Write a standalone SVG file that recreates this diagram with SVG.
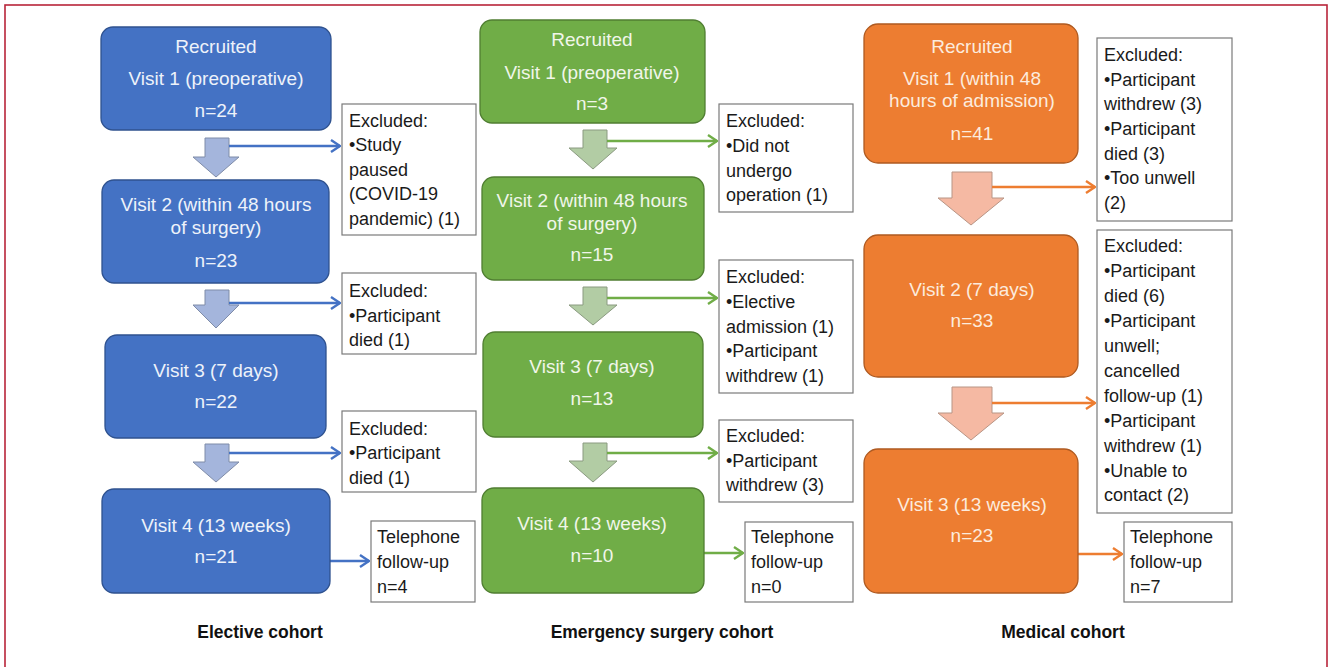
<svg xmlns="http://www.w3.org/2000/svg" width="1333" height="667" viewBox="0 0 1333 667">
<style>
.nt{font-family:"Liberation Sans",Arial,sans-serif;font-size:19px;text-anchor:middle}
.bt{font-family:"Liberation Sans",Arial,sans-serif;font-size:18px;fill:#1a1a1a}
.hd{font-family:"Liberation Sans",Arial,sans-serif;font-size:17.5px;font-weight:bold;text-anchor:middle;fill:#111}
.wb{fill:#fff;stroke:#7a7a7a;stroke-width:1.2}
.nb{fill:#4472C4;stroke:#2F528F;stroke-width:1.3}
.ng{fill:#70AD47;stroke:#507E32;stroke-width:1.3}
.no{fill:#ED7D31;stroke:#AE5A21;stroke-width:1.3}
.tb{fill:#EEF2FA}.tg{fill:#F0F6EA}.to{fill:#FCEBDD}
.ab{fill:#A4B5DC;stroke:#7F8CA8;stroke-width:1}
.ag{fill:#B2CCA4;stroke:#8A9A80;stroke-width:1}
.ao{fill:#F5B9A3;stroke:#B89585;stroke-width:1}
.cb{stroke:#4472C4;stroke-width:2.4;fill:none}
.cg{stroke:#70AD47;stroke-width:2.4;fill:none}
.co{stroke:#ED7D31;stroke-width:2.4;fill:none}
</style>
<defs>
<marker id="mb" markerWidth="11" markerHeight="14" refX="10" refY="7" orient="auto" markerUnits="userSpaceOnUse"><polyline points="1,1 10,7 1,13" fill="none" stroke="#4472C4" stroke-width="2.4"/></marker>
<marker id="mg" markerWidth="11" markerHeight="14" refX="10" refY="7" orient="auto" markerUnits="userSpaceOnUse"><polyline points="1,1 10,7 1,13" fill="none" stroke="#70AD47" stroke-width="2.4"/></marker>
<marker id="mo" markerWidth="11" markerHeight="14" refX="10" refY="7" orient="auto" markerUnits="userSpaceOnUse"><polyline points="1,1 10,7 1,13" fill="none" stroke="#ED7D31" stroke-width="2.4"/></marker>
</defs>
<rect width="1333" height="667" fill="#fff"/>
<rect x="5" y="5" width="1322" height="680" fill="none" stroke="#B8253A" stroke-width="1.6"/>

<g id="block-arrows">
<polygon class="ab" points="205,138 229,138 229,157 239,157 216,177 193,157 205,157"/>
<polygon class="ab" points="205,290 229,290 229,305 239,305 216,328 193,305 205,305"/>
<polygon class="ab" points="205,444 229,444 229,462 239,462 216,482 193,462 205,462"/>
<polygon class="ag" points="583,130 607,130 607,148 617,148 593,169 569,148 583,148"/>
<polygon class="ag" points="583,287 607,287 607,305 617,305 593,325 569,305 583,305"/>
<polygon class="ag" points="583,443 607,443 607,461 617,461 593,482 569,461 583,461"/>
<polygon class="ao" points="952,172 992,172 992,198 1004,198 971,225 938,198 952,198"/>
<polygon class="ao" points="952,387 992,387 992,413 1004,413 971,440 938,413 952,413"/>
</g>

<g id="connectors">
<line class="cb" x1="229" y1="146" x2="340" y2="146" marker-end="url(#mb)"/>
<line class="cb" x1="229" y1="303" x2="340" y2="303" marker-end="url(#mb)"/>
<line class="cb" x1="229" y1="453" x2="340" y2="453" marker-end="url(#mb)"/>
<line class="cb" x1="330" y1="561" x2="369" y2="561" marker-end="url(#mb)"/>
<line class="cg" x1="607" y1="141" x2="717" y2="141" marker-end="url(#mg)"/>
<line class="cg" x1="607" y1="298" x2="717" y2="298" marker-end="url(#mg)"/>
<line class="cg" x1="607" y1="453" x2="717" y2="453" marker-end="url(#mg)"/>
<line class="cg" x1="704" y1="553" x2="743" y2="553" marker-end="url(#mg)"/>
<line class="co" x1="992" y1="187" x2="1095" y2="187" marker-end="url(#mo)"/>
<line class="co" x1="992" y1="403" x2="1095" y2="403" marker-end="url(#mo)"/>
<line class="co" x1="1078" y1="554" x2="1122" y2="554" marker-end="url(#mo)"/>
</g>

<g id="e1"><rect class="nb" x="101" y="27" width="230" height="103" rx="12"/>
<text class="nt tb" x="216" y="53">Recruited</text><text class="nt tb" x="216" y="85">Visit 1 (preoperative)</text><text class="nt tb" x="216" y="117">n=24</text></g>
<g id="e2"><rect class="nb" x="102" y="180" width="227" height="103" rx="12"/>
<text class="nt tb" x="216" y="211">Visit 2 (within 48 hours</text><text class="nt tb" x="216" y="234">of surgery)</text><text class="nt tb" x="216" y="267">n=23</text></g>
<g id="e3"><rect class="nb" x="105" y="335" width="221" height="103" rx="12"/>
<text class="nt tb" x="216" y="377">Visit 3 (7 days)</text><text class="nt tb" x="216" y="408">n=22</text></g>
<g id="e4"><rect class="nb" x="102" y="489" width="228" height="104" rx="12"/>
<text class="nt tb" x="216" y="532">Visit 4 (13 weeks)</text><text class="nt tb" x="216" y="563">n=21</text></g>
<g id="ex-e1"><rect class="wb" x="342" y="104" width="134" height="131"/>
<text class="bt" x="349" y="127">Excluded:</text><text class="bt" x="349" y="151">•Study</text><text class="bt" x="349" y="176">paused</text><text class="bt" x="349" y="200">(COVID-19</text><text class="bt" x="349" y="225">pandemic) (1)</text></g>
<g id="ex-e2"><rect class="wb" x="342" y="273" width="134" height="81"/>
<text class="bt" x="349" y="297">Excluded:</text><text class="bt" x="349" y="322">•Participant</text><text class="bt" x="349" y="346">died (1)</text></g>
<g id="ex-e3"><rect class="wb" x="342" y="411" width="134" height="81"/>
<text class="bt" x="349" y="435">Excluded:</text><text class="bt" x="349" y="459">•Participant</text><text class="bt" x="349" y="484">died (1)</text></g>
<g id="tel-e"><rect class="wb" x="371" y="521" width="104" height="81"/>
<text class="bt" x="377" y="543">Telephone</text><text class="bt" x="377" y="568">follow-up</text><text class="bt" x="377" y="593">n=4</text></g>
<text class="hd" x="260" y="638">Elective cohort</text>

<g id="g1"><rect class="ng" x="480" y="20" width="225" height="103" rx="12"/>
<text class="nt tg" x="592" y="46">Recruited</text><text class="nt tg" x="592" y="79">Visit 1 (preoperative)</text><text class="nt tg" x="592" y="110">n=3</text></g>
<g id="g2"><rect class="ng" x="482" y="177" width="222" height="103" rx="12"/>
<text class="nt tg" x="592" y="207">Visit 2 (within 48 hours</text><text class="nt tg" x="592" y="230">of surgery)</text><text class="nt tg" x="592" y="261">n=15</text></g>
<g id="g3"><rect class="ng" x="483" y="332" width="220" height="105" rx="12"/>
<text class="nt tg" x="592" y="373">Visit 3 (7 days)</text><text class="nt tg" x="592" y="405">n=13</text></g>
<g id="g4"><rect class="ng" x="482" y="488" width="222" height="105" rx="12"/>
<text class="nt tg" x="592" y="530">Visit 4 (13 weeks)</text><text class="nt tg" x="592" y="562">n=10</text></g>
<g id="ex-g1"><rect class="wb" x="719" y="104" width="134" height="108"/>
<text class="bt" x="726" y="127">Excluded:</text><text class="bt" x="726" y="152">•Did not</text><text class="bt" x="726" y="177">undergo</text><text class="bt" x="726" y="201">operation (1)</text></g>
<g id="ex-g2"><rect class="wb" x="719" y="260" width="134" height="133"/>
<text class="bt" x="726" y="283">Excluded:</text><text class="bt" x="726" y="308">•Elective</text><text class="bt" x="726" y="333">admission (1)</text><text class="bt" x="726" y="357">•Participant</text><text class="bt" x="726" y="382">withdrew (1)</text></g>
<g id="ex-g3"><rect class="wb" x="719" y="420" width="134" height="82"/>
<text class="bt" x="726" y="442">Excluded:</text><text class="bt" x="726" y="467">•Participant</text><text class="bt" x="726" y="491">withdrew (3)</text></g>
<g id="tel-g"><rect class="wb" x="745" y="522" width="108" height="80"/>
<text class="bt" x="751" y="543">Telephone</text><text class="bt" x="751" y="568">follow-up</text><text class="bt" x="751" y="593">n=0</text></g>
<text class="hd" x="662" y="638">Emergency surgery cohort</text>

<g id="m1"><rect class="no" x="864" y="24" width="214" height="139" rx="14"/>
<text class="nt to" x="972" y="53">Recruited</text><text class="nt to" x="972" y="85">Visit 1 (within 48</text><text class="nt to" x="972" y="107">hours of admission)</text><text class="nt to" x="972" y="140">n=41</text></g>
<g id="m2"><rect class="no" x="864" y="235" width="214" height="142" rx="14"/>
<text class="nt to" x="972" y="296">Visit 2 (7 days)</text><text class="nt to" x="972" y="327">n=33</text></g>
<g id="m3"><rect class="no" x="864" y="449" width="214" height="144" rx="14"/>
<text class="nt to" x="972" y="511">Visit 3 (13 weeks)</text><text class="nt to" x="972" y="542">n=23</text></g>
<g id="ex-m1"><rect class="wb" x="1097" y="38" width="135" height="183"/>
<text class="bt" x="1104" y="61">Excluded:</text><text class="bt" x="1104" y="86">•Participant</text><text class="bt" x="1104" y="110">withdrew (3)</text><text class="bt" x="1104" y="135">•Participant</text><text class="bt" x="1104" y="160">died (3)</text><text class="bt" x="1104" y="184">•Too unwell</text><text class="bt" x="1104" y="209">(2)</text></g>
<g id="ex-m2"><rect class="wb" x="1097" y="230" width="135" height="283"/>
<text class="bt" x="1104" y="252">Excluded:</text><text class="bt" x="1104" y="277">•Participant</text><text class="bt" x="1104" y="302">died (6)</text><text class="bt" x="1104" y="327">•Participant</text><text class="bt" x="1104" y="352">unwell;</text><text class="bt" x="1104" y="377">cancelled</text><text class="bt" x="1104" y="402">follow-up (1)</text><text class="bt" x="1104" y="427">•Participant</text><text class="bt" x="1104" y="452">withdrew (1)</text><text class="bt" x="1104" y="477">•Unable to</text><text class="bt" x="1104" y="501">contact (2)</text></g>
<g id="tel-m"><rect class="wb" x="1124" y="522" width="108" height="80"/>
<text class="bt" x="1130" y="543">Telephone</text><text class="bt" x="1130" y="568">follow-up</text><text class="bt" x="1130" y="593">n=7</text></g>
<text class="hd" x="1063" y="638">Medical cohort</text>
</svg>
